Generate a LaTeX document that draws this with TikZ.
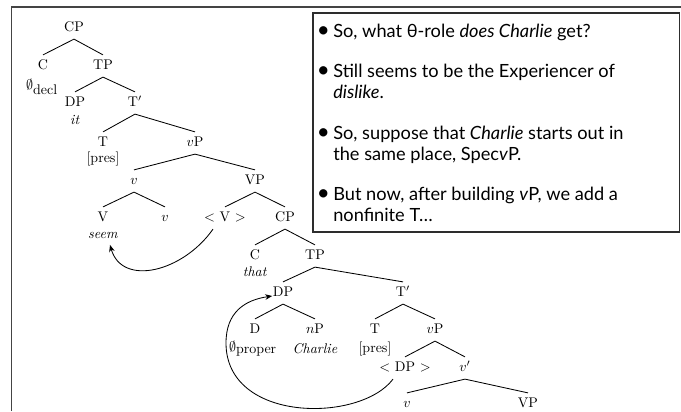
\documentclass[tikz,border=0pt]{standalone}
\usepackage{amsmath}
\usepackage{fontspec}
\usepackage{tikz}
\usetikzlibrary{arrows.meta,positioning,calc}
\newfontfamily\slidefont{Lato}
\newcommand{\itemdot}{\llap{{\fontsize{16}{14.3}\selectfont\textbullet}\kern2.5pt}}
\definecolor{framegray}{RGB}{68,68,68}
\definecolor{boxgray}{RGB}{45,45,45}

\begin{document}
\begin{tikzpicture}[
    x=0.714pt, y=-0.714pt,
    cat/.style={inner xsep=1pt, inner ysep=3pt, text height=1.7ex, text depth=.5ex},
    leaf/.style={inner sep=1pt},
    branch/.style={semithick},
    move/.style={-{Stealth[length=5pt,width=4pt]}, semithick},
    point/.style={anchor=base west, align=left, inner sep=0pt, font=\slidefont\fontsize{13}{14.3}\selectfont}
]
    \useasboundingbox (0,0) rectangle (681,411);
    \draw[framegray, line width=1.3pt] (11.5,411) -- (11.5,7) -- (681,7);

    % matrix clause
    \node[cat] (cp1) at (74,28) {CP};
    \node[cat] (c1) at (43,66) {C};
    \node[cat] (tp1) at (103,66) {TP};
    \node[leaf] (decl) at (42,87) {$\emptyset_{\mbox{decl}}$};
    \node[cat] (dp1) at (75,103) {DP};
    \node[cat] (tbar1) at (135,103) {T$'$};
    \node[leaf] (it) at (75,120) {\textit{it}};
    \node[cat] (t1) at (103,143) {T};
    \node[cat] (vp1) at (195,143) {$v$P};
    \node[leaf] (pres1) at (103,159) {[pres]};
    \node[cat] (vlit) at (134,181) {$v$};
    \node[cat] (vpbig1) at (255,181) {VP};
    \node[cat] (vroot) at (103,218) {V};
    \node[cat] (vaff) at (165,218) {$v$};
    \node[cat] (vtr) at (225,218) {$<$ V $>$};
    \node[cat] (cp2) at (285,218) {CP};
    \node[leaf] (seem) at (103,235) {\textit{seem}};

    % embedded clause
    \node[cat] (c2) at (255,256) {C};
    \node[cat] (tp2) at (315,256) {TP};
    \node[leaf] (that) at (255,272) {\textit{that}};
    \node[cat] (dp2) at (283,293) {DP};
    \node[cat] (tbar2) at (403,293) {T$'$};
    \node[cat] (d) at (255,330) {D};
    \node[cat] (np) at (315,330) {$n$P};
    \node[cat] (t2) at (375,330) {T};
    \node[cat] (vp2) at (435,330) {$v$P};
    \node[leaf] (proper) at (253,349) {$\emptyset_{\mbox{proper}}$};
    \node[leaf] (charlie) at (315,349) {\textit{Charlie}};
    \node[leaf] (pres2) at (375,349) {[pres]};
    \node[cat] (dptr) at (405,368) {$<$ DP $>$};
    \node[cat] (vbar) at (465,368) {$v'$};
    \node[cat] (vlow) at (407,404) {$v$};
    \node[cat] (vpbig2) at (528,404) {VP};

    \draw[branch] (c1.north) -- (cp1.south) -- (tp1.north);
    \draw[branch] (dp1.north) -- (tp1.south) -- (tbar1.north);
    \draw[branch] (t1.north) -- (tbar1.south) -- (vp1.north);
    \draw[branch] (vlit.north) -- (vp1.south) -- (vpbig1.north);
    \draw[branch] (vroot.north) -- (vlit.south) -- (vaff.north);
    \draw[branch] (vtr.north) -- (vpbig1.south) -- (cp2.north);
    \draw[branch] (c2.north) -- (cp2.south) -- (tp2.north);
    \draw[branch] (dp2.north) -- (tp2.south) -- (tbar2.north);
    \draw[branch] (d.north) -- (dp2.south) -- (np.north);
    \draw[branch] (t2.north) -- (tbar2.south) -- (vp2.north);
    \draw[branch] (dptr.north) -- (vp2.south) -- (vbar.north);
    \draw[branch] (vlow.north) -- (vbar.south) -- (vpbig2.north);

    % movement
    \draw[move] ($(vtr.south)+(-12,0)$) .. controls (183,272) and (122,287) .. ($(seem.south)+(7,5)$);
    \draw[move] ($(dptr.south)+(-12,0)$) .. controls (360,423) and (226,423) .. (226,343)
        .. controls (226,312) and (245,300) .. ($(dp2.west)+(1,3)$);

    % text box (multi-line items sit on their last line)
    \draw[boxgray, fill=white, line width=0.8pt] (313,13) rectangle (679.5,232);
    \node[point] (item1) at (333,37) {\itemdot So, what θ-role \textit{does Charlie} get?};
    \node[point] (item2) at (333,98) {\itemdot Still seems to be the Experiencer of\\\textit{dislike}.};
    \node[point] (item3) at (333,160) {\itemdot So, suppose that \textit{Charlie} starts out in\\the same place, Spec\textit{v}P.};
    \node[point] (item4) at (333,221) {\itemdot But now, after building \textit{v}P, we add a\\nonfinite T…};
\end{tikzpicture}
\end{document}
